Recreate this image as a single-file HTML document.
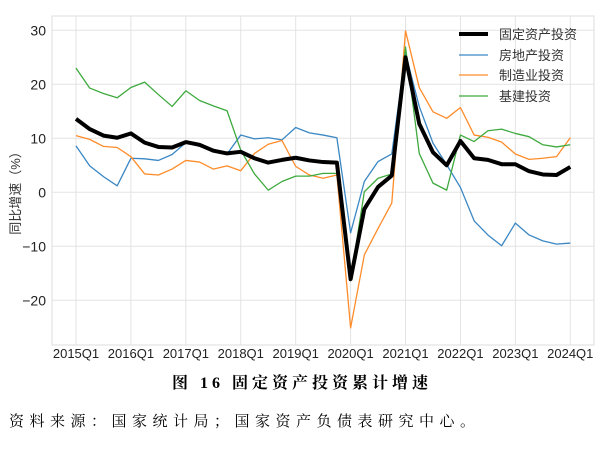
<!DOCTYPE html>
<html><head><meta charset="utf-8"><style>
body{margin:0;background:#fff;width:605px;height:445px;overflow:hidden;font-family:"Liberation Sans","Noto Sans CJK SC",sans-serif}
</style></head><body>
<svg width="605" height="445" id="chart" xmlns="http://www.w3.org/2000/svg">
<g id="grid"></g>
<g id="series"></g>
<g id="axes"></g>
<text x="20" y="190" transform="rotate(-90 20 190)" text-anchor="middle" font-size="13" fill="#333" font-family="Liberation Sans, Noto Sans CJK SC, sans-serif">同比增速（%）</text>
<g font-size="13" fill="#333" font-family="Liberation Sans, Noto Sans CJK SC, sans-serif">
<line x1="459" y1="34" x2="488" y2="34" stroke="#000" stroke-width="4"/><text x="499" y="39">固定资产投资</text>
<line x1="459" y1="55" x2="488" y2="55" stroke="#3a87c4" stroke-width="1.3"/><text x="499" y="60">房地产投资</text>
<line x1="459" y1="75" x2="488" y2="75" stroke="#ff8c2a" stroke-width="1.3"/><text x="499" y="80">制造业投资</text>
<line x1="459" y1="96" x2="488" y2="96" stroke="#3eaa3e" stroke-width="1.3"/><text x="499" y="101">基建投资</text>
</g>
<text x="302" y="388" text-anchor="middle" font-size="16" font-weight="bold" fill="#000" font-family="Liberation Serif, Noto Serif CJK SC, serif" letter-spacing="4">图 16 固定资产投资累计增速</text>
<text x="9" y="426" font-size="15" fill="#000" font-family="Liberation Serif, Noto Serif CJK SC, serif" letter-spacing="5.5">资料来源：国家统计局；国家资产负债表研究中心。</text>
</svg>
<script>
const quarters = ["2015Q1","2015Q2","2015Q3","2015Q4","2016Q1","2016Q2","2016Q3","2016Q4","2017Q1","2017Q2","2017Q3","2017Q4","2018Q1","2018Q2","2018Q3","2018Q4","2019Q1","2019Q2","2019Q3","2019Q4","2020Q1","2020Q2","2020Q3","2020Q4","2021Q1","2021Q2","2021Q3","2021Q4","2022Q1","2022Q2","2022Q3","2022Q4","2023Q1","2023Q2","2023Q3","2023Q4","2024Q1"];
const faiValues = [13.6,11.7,10.5,10.1,10.9,9.2,8.4,8.3,9.3,8.8,7.7,7.2,7.5,6.3,5.5,6.0,6.4,5.9,5.6,5.5,-16.1,-3.1,1.0,3.1,25.0,12.7,7.4,5.0,9.5,6.3,6.0,5.2,5.2,3.9,3.3,3.2,4.7];
const realEstateValues = [8.6,4.9,2.9,1.2,6.3,6.2,5.9,7.0,9.2,8.5,8.0,7.1,10.6,9.9,10.1,9.7,12.0,11.0,10.6,10.1,-7.5,2.0,5.7,7.1,25.7,15.9,9.1,5.1,0.9,-5.3,-7.9,-9.9,-5.7,-7.9,-9.0,-9.6,-9.4];
const manufacturingValues = [10.5,9.8,8.5,8.3,6.6,3.4,3.2,4.3,5.9,5.6,4.3,4.9,4.0,7.2,8.9,9.6,4.8,3.2,2.6,3.2,-25.1,-11.6,-6.7,-2.0,29.9,19.4,14.9,13.7,15.7,10.6,10.2,9.3,7.1,6.1,6.3,6.6,10.1];
const infraValues = [23.0,19.3,18.3,17.5,19.4,20.4,18.1,15.9,18.8,17.0,16.0,15.1,7.8,3.4,0.4,2.0,3.0,3.0,3.5,3.5,-16.2,0.1,2.6,3.4,26.9,7.2,1.7,0.4,10.6,9.4,11.4,11.7,10.9,10.3,8.8,8.4,8.8];
const yTicks = [-20,-10,0,10,20,30];
const xTickLabels = ["2015Q1","2016Q1","2017Q1","2018Q1","2019Q1","2020Q1","2021Q1","2022Q1","2023Q1","2024Q1"];

const NS="http://www.w3.org/2000/svg";
const L=52,R=594,T=16,B=345;
const x0=76,xStep=13.73;
function xs(i){return x0+i*xStep;}
function ys(v){return 192.3-v*5.4;}
function mk(tag,attrs,parent){const e=document.createElementNS(NS,tag);for(const k in attrs)e.setAttribute(k,attrs[k]);parent.appendChild(e);return e;}
const grid=document.getElementById('grid'),axes=document.getElementById('axes'),series=document.getElementById('series');
mk('rect',{x:L,y:T,width:R-L,height:B-T,fill:'none',stroke:'#ddd','stroke-width':1},grid);
yTicks.forEach(v=>{
  const ln=mk('line',{x1:L,x2:R,y1:ys(v),y2:ys(v),stroke:'#e3e3e3','stroke-width':1},grid);
  
  
  const t=mk('text',{x:L-6,y:ys(v)+5,'text-anchor':'end','font-size':14,fill:'#222'},axes);
  t.textContent=v<0?'\u2212'+Math.abs(v):String(v);
  
  
});
xTickLabels.forEach(lbl=>{
  const i=quarters.indexOf(lbl);
  const ln=mk('line',{x1:xs(i),x2:xs(i),y1:T,y2:B,stroke:'#e3e3e3','stroke-width':1},grid);
  
  
  const t=mk('text',{x:xs(i),y:358,'text-anchor':'middle','font-size':13,fill:'#222'},axes);
  t.textContent=lbl;
  
  
});
function line(vals,color,w,name){
  const p=mk('polyline',{points:vals.map((v,i)=>xs(i)+','+ys(v)).join(' '),fill:'none',stroke:color,'stroke-width':w,'stroke-linejoin':'round'},series);
  
  
}
line(realEstateValues,'#3a87c4',1.3,'line-real-estate');
line(manufacturingValues,'#ff8c2a',1.3,'line-manufacturing');
line(infraValues,'#3eaa3e',1.3,'line-infrastructure');
line(faiValues,'#000',4,'line-fixed-asset-investment');
</script>
</body></html>
